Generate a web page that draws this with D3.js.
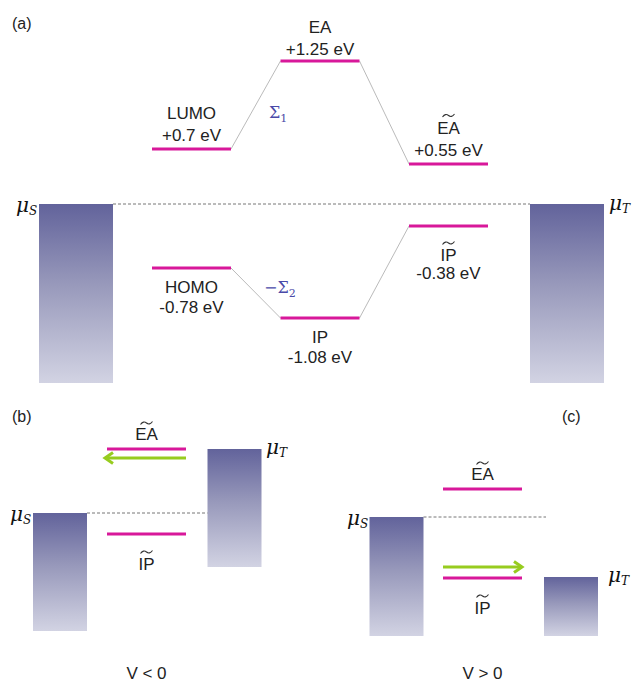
<!DOCTYPE html>
<html><head><meta charset="utf-8">
<script src="https://cdn.jsdelivr.net/npm/d3@7"></script>
<style>body{margin:0;background:#fff}svg{display:block}</style>
</head><body>
<svg id="c" width="633" height="682"></svg>
<script>
// ---------- data ----------
// Panel (a): energy levels (eV)
const levelNames   = ["LUMO", "EA", "EA", "HOMO", "IP", "IP"];
const levelTilde   = [false, false, true, false, false, true];
const levelColumns = ["molecule", "gas", "surface", "molecule", "gas", "surface"];
const levelEnergy  = [0.7, 1.25, 0.55, -0.78, -1.08, -0.38];
const levelText    = ["+0.7 eV", "+1.25 eV", "+0.55 eV", "-0.78 eV", "-1.08 eV", "-0.38 eV"];
const columnsA     = ["S", "molecule", "gas", "surface", "T"];
const muA          = 0;        // electrode chemical potential (both)
// Panel (b) V<0 and (c) V>0: schematic relative level positions (arbitrary units, mu_S = 0)
const panelsBC     = ["b", "c"];
const biasLabel    = ["V < 0", "V > 0"];
const eaTildeBC    = [0.64, 0.28];
const ipTildeBC    = [-0.21, -0.61];
const muSBC        = [0, 0];
const muTBC        = [0.64, -0.60];
const arrowDir     = [-1, 1];   // -1: toward S, +1: toward T

// ---------- setup ----------
const svg = d3.select("#c");
const magenta = "#d8189a", green = "#97cc1f", textCol = "#222";
const fontSans = "'Liberation Sans', Arial, sans-serif";
const fontSerif = "'DejaVu Serif', 'Liberation Serif', serif";

const defs = svg.append("defs");
const grad = defs.append("linearGradient").attr("id", "barGrad")
  .attr("x1", 0).attr("y1", 0).attr("x2", 0).attr("y2", 1);
grad.append("stop").attr("offset", "0%").attr("stop-color", "#62639b");
grad.append("stop").attr("offset", "45%").attr("stop-color", "#9899bb");
grad.append("stop").attr("offset", "100%").attr("stop-color", "#d2d3e3");

function tilde(g, x, y) {
  g.append("path")
    .attr("d", `M${x-6},${y+1.5} Q${x-3},${y-2.5} ${x},${y} T${x+6},${y-1.5}`)
    .attr("fill", "none").attr("stroke", "#333").attr("stroke-width", 1.1);
}
function mu(g, x, y, sub) {
  const t = g.append("text").attr("x", x).attr("y", y)
    .attr("font-family", fontSerif).attr("font-style", "italic").attr("fill", "#111");
  t.append("tspan").attr("font-size", 20).text("\u03bc");
  t.append("tspan").attr("font-size", 12).attr("dy", 3).text(sub);
}
function levelLine(g, x0, x1, y) {
  g.append("line").attr("x1", x0).attr("x2", x1).attr("y1", y).attr("y2", y)
    .attr("stroke", magenta).attr("stroke-width", 3);
}
function label(g, x, y, txt, size) {
  return g.append("text").attr("x", x).attr("y", y).attr("text-anchor", "middle")
    .attr("font-family", fontSans).attr("font-size", size || 17).attr("fill", textCol).text(txt);
}
function bar(g, x0, x1, y0, y1) {
  g.append("rect").attr("x", x0).attr("y", y0).attr("width", x1 - x0).attr("height", y1 - y0)
    .attr("fill", "url(#barGrad)");
}
function dashed(g, x0, x1, y) {
  g.append("line").attr("x1", x0).attr("x2", x1).attr("y1", y).attr("y2", y)
    .attr("stroke", "#777").attr("stroke-width", 1).attr("stroke-dasharray", "3,2");
}

// ---------- panel (a) ----------
const gA = svg.append("g");
const xA = d3.scaleOrdinal().domain(columnsA).range([76, 191.5, 320, 448.5, 567]);
const halfW = 39.5, barHalf = 37;
// schematic (non-uniform) energy axis
const yA = d3.scaleLinear()
  .domain([1.25, 0.7, 0.55, 0, -0.38, -0.78, -1.08, -2.0])
  .range([61, 149, 164, 204, 226, 268, 318, 383]);
const barBottomA = yA(-2.0);

label(gA, 12, 29, "(a)", 16).attr("text-anchor", "start");

// connectors (molecule -> gas -> surface)
[[0, 1], [1, 2], [3, 4], [4, 5]].forEach(([a, b]) => {
  gA.append("line")
    .attr("x1", xA(levelColumns[a]) + halfW).attr("y1", yA(levelEnergy[a]))
    .attr("x2", xA(levelColumns[b]) - halfW).attr("y2", yA(levelEnergy[b]))
    .attr("stroke", "#a8a8a8").attr("stroke-width", 0.8);
});

// electrodes
bar(gA, xA("S") - barHalf, xA("S") + barHalf, yA(muA), barBottomA);
bar(gA, xA("T") - barHalf, xA("T") + barHalf, yA(muA), barBottomA);
dashed(gA, xA("S") + barHalf, xA("T") - barHalf, yA(muA));
mu(gA, 16, yA(muA) + 8, "S");
mu(gA, 609, yA(muA) + 6, "T");

levelEnergy.forEach((e, i) => {
  const cx = xA(levelColumns[i]), y = yA(e);
  levelLine(gA, cx - halfW, cx + halfW, y);
  if (e > 0) {
    const b1 = y - (i === 1 ? 6 : 8.5);
    label(gA, cx, b1, levelText[i]);
    label(gA, cx, b1 - 22, levelNames[i]);
    if (levelTilde[i]) tilde(gA, cx, b1 - 22 - 18);
  } else {
    const nameY = (i === 5) ? y + 35 : y + 25;
    label(gA, cx, nameY, levelNames[i]);
    label(gA, cx, nameY + (i === 5 ? 17.5 : 20), levelText[i]);
    if (levelTilde[i]) tilde(gA, cx, nameY - 18);
  }
});

// self-energy labels
const s1 = gA.append("text").attr("x", 269).attr("y", 118)
  .attr("font-family", fontSerif).attr("font-size", 16).attr("fill", "#4a4aa8");
s1.append("tspan").text("\u03a3");
s1.append("tspan").attr("font-size", 11).attr("dy", 4).text("1");
const s2 = gA.append("text").attr("x", 264).attr("y", 293)
  .attr("font-family", fontSerif).attr("font-size", 16).attr("fill", "#4a4aa8");
s2.append("tspan").text("\u2212\u03a3");
s2.append("tspan").attr("font-size", 11).attr("dy", 4).text("2");

// ---------- panels (b), (c) ----------
const layout = {
  b: { x: d3.scaleOrdinal().domain(["S", "mol", "T"]).range([60, 146.5, 234.5]), mu0: 513, tagX: 12, bottom: null, sx: 10, tx: 266 },
  c: { x: d3.scaleOrdinal().domain(["S", "mol", "T"]).range([396.5, 482.5, 571]), mu0: 517, tagX: 562, bottom: 636, sx: 347, tx: 608 }
};
const pxPerUnit = 100, barHalfBC = 27, barH = 118;
panelsBC.forEach((p, i) => {
  const L = layout[p];
  const g = svg.append("g");
  const y = d3.scaleLinear().domain([0, 1]).range([L.mu0, L.mu0 - pxPerUnit]);
  g.append("text").attr("x", L.tagX).attr("y", 422).attr("font-family", fontSans)
    .attr("font-size", 16).attr("fill", textCol).text("(" + p + ")");
  // bars
  const ySb = L.bottom || y(muSBC[i]) + barH;
  const yTb = L.bottom || y(muTBC[i]) + barH;
  bar(g, L.x("S") - barHalfBC, L.x("S") + barHalfBC, y(muSBC[i]), ySb);
  bar(g, L.x("T") - barHalfBC, L.x("T") + barHalfBC, y(muTBC[i]), yTb);
  dashed(g, L.x("S") + barHalfBC, p === "b" ? L.x("T") - barHalfBC : L.x("T") - 25, y(muSBC[i]));
  mu(g, L.sx, y(muSBC[i]) + 8, "S");
  mu(g, L.tx, y(muTBC[i]) + 5, "T");
  // levels
  const cx = L.x("mol");
  levelLine(g, cx - halfW, cx + halfW, y(eaTildeBC[i]));
  levelLine(g, cx - halfW, cx + halfW, y(ipTildeBC[i]));
  label(g, cx, y(eaTildeBC[i]) - 9, "EA");
  tilde(g, cx, y(eaTildeBC[i]) - 26);
  label(g, cx, y(ipTildeBC[i]) + 36, "IP");
  tilde(g, cx, y(ipTildeBC[i]) + 18);
  // arrow
  const ay = arrowDir[i] < 0 ? y(eaTildeBC[i]) + 9 : y(ipTildeBC[i]) - 11;
  const xs = arrowDir[i] < 0 ? cx + halfW : cx - halfW;
  const xe = arrowDir[i] < 0 ? cx - halfW - 2 : cx + halfW;
  g.append("line").attr("x1", xs).attr("x2", xe).attr("y1", ay).attr("y2", ay)
    .attr("stroke", green).attr("stroke-width", 3);
  const d = arrowDir[i];
  g.append("path")
    .attr("d", `M${xe - d*8},${ay - 5.5} L${xe},${ay} L${xe - d*8},${ay + 5.5}`)
    .attr("fill", "none").attr("stroke", green).attr("stroke-width", 3)
    .attr("stroke-linejoin", "miter");
  label(g, cx, 679, biasLabel[i]);
});
</script>
</body></html>
